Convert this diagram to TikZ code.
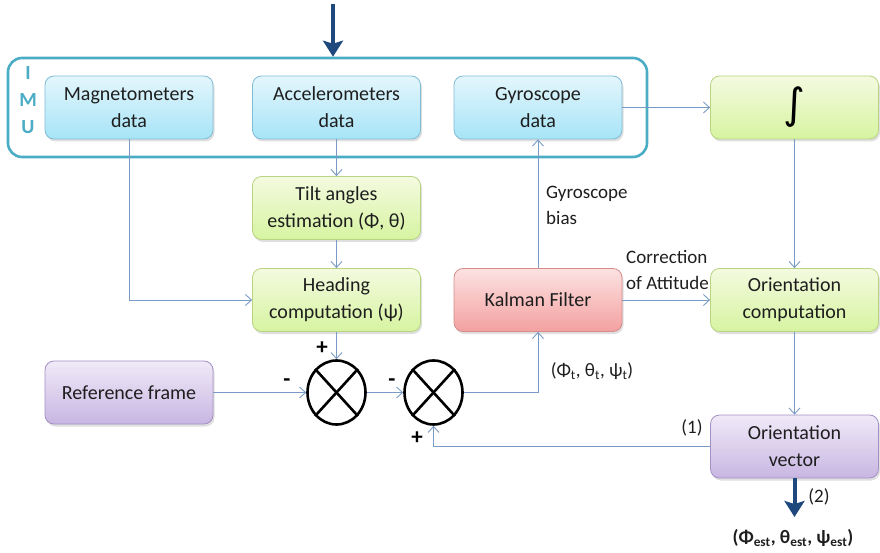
\documentclass[tikz,border=0pt]{standalone}
\usepackage{fontspec}
\setmainfont{Carlito}
\newfontfamily\intfont{DejaVu Sans}
\usetikzlibrary{shapes.geometric,arrows.meta,shadows}
\definecolor{conncol}{RGB}{122,155,198}
\definecolor{thickcol}{RGB}{31,73,125}
\definecolor{imucol}{RGB}{75,172,198}
\definecolor{txtcol}{RGB}{30,30,30}
\definecolor{bluetop}{RGB}{228,246,252}
\definecolor{bluebot}{RGB}{166,228,247}
\definecolor{blueedge}{RGB}{128,188,214}
\definecolor{greentop}{RGB}{244,250,224}
\definecolor{greenbot}{RGB}{214,244,160}
\definecolor{greenedge}{RGB}{184,212,130}
\definecolor{redtop}{RGB}{252,226,226}
\definecolor{redbot}{RGB}{244,160,160}
\definecolor{rededge}{RGB}{214,140,140}
\definecolor{purtop}{RGB}{240,234,248}
\definecolor{purbot}{RGB}{200,182,226}
\definecolor{puredge}{RGB}{164,144,196}
\tikzset{
  box/.style={draw, rounded corners=9pt, minimum width=168pt, minimum height=63pt,
    align=center, inner sep=2pt, text=txtcol, line width=0.8pt,
    font=\fontsize{20}{27}\selectfont,
    drop shadow={opacity=0.25, shadow xshift=1.5pt, shadow yshift=-2.5pt}},
  bluebox/.style={box, top color=bluetop, bottom color=bluebot, draw=blueedge},
  greenbox/.style={box, top color=greentop, bottom color=greenbot, draw=greenedge},
  redbox/.style={box, top color=redtop, bottom color=redbot, draw=rededge},
  purbox/.style={box, top color=purtop, bottom color=purbot, draw=puredge},
  mult/.style={draw=black, ellipse, line width=2.6pt, minimum width=58pt, minimum height=64pt, inner sep=0pt, fill=white},
  conn/.style={draw=conncol, line width=0.9pt, -{Straight Barb[length=6pt,width=11pt]}},
  thickarrow/.style={draw=thickcol, line width=4pt, -{Stealth[length=16pt,width=20pt,inset=3pt]}},
  lbl/.style={text=txtcol, font=\fontsize{19}{26}\selectfont, inner sep=0pt},
  sign/.style={text=black, font=\fontsize{23}{23}\selectfont\bfseries, inner sep=0pt},
  imul/.style={text=imucol, font=\fontsize{20}{20}\selectfont\bfseries, inner sep=0pt}
}
\begin{document}
\begin{tikzpicture}[x=1pt,y=-1pt]
\useasboundingbox (0,0) rectangle (880,553);
% IMU frame
\node[draw=imucol, line width=2.6pt, rounded corners=14pt, minimum width=639pt, minimum height=99pt, inner sep=0pt] (imu) at (327.5,107.5) {};
\node[imul] (li) at (28,73) {I};
\node[imul] (lm) at (28,100) {M};
\node[imul] (lu) at (28,127) {U};
% boxes
\node[bluebox] (mag) at (129,107.5) {Magnetometers\\data};
\node[bluebox] (acc) at (336.5,107.5) {Accelerometers\\data};
\node[bluebox] (gyro) at (538,107.5) {Gyroscope\\data};
\node[greenbox] (integ) at (794.5,107.5) {\intfont\fontsize{42}{42}\selectfont\textcolor{black}{∫}};
\node[greenbox] (tilt) at (336.5,208) {Tilt angles\\estimation (Φ, θ)};
\node[greenbox] (head) at (336.5,300) {Heading\\computation (ψ)};
\node[redbox] (kal) at (538,300) {Kalman Filter};
\node[greenbox] (ocomp) at (794.5,300) {Orientation\\computation};
\node[purbox] (ref) at (129,392.5) {Reference frame};
\node[purbox] (ovec) at (794.5,446.5) {Orientation\\vector};
% multipliers
\node[mult] (m1) at (336.5,392.5) {};
\draw[line width=2.6pt] (m1.north west) -- (m1.south east) (m1.north east) -- (m1.south west);
\node[mult] (m2) at (433.5,392.5) {};
\draw[line width=2.6pt] (m2.north west) -- (m2.south east) (m2.north east) -- (m2.south west);
% connectors
\draw[conn] (mag.south) |- (head.west);
\draw[conn] (acc) -- (tilt);
\draw[conn] (tilt) -- (head);
\draw[conn] (head) -- (m1);
\draw[conn] (ref) -- (m1);
\draw[conn] (m1) -- (m2);
\draw[conn] (m2.east) -| (kal.south);
\draw[conn] (kal) -- (gyro);
\draw[conn] (gyro) -- (integ);
\draw[conn] (integ) -- (ocomp);
\draw[conn] (kal) -- (ocomp);
\draw[conn] (ocomp) -- (ovec);
\draw[conn] (ovec.west) -| (m2.south);
% thick arrows
\coordinate (topin) at (333,4);
\draw[thickarrow] (topin) -- (topin |- imu.north);
\coordinate (botout) at (794.5,517);
\draw[thickarrow] (ovec.south) -- (botout);
% labels
\node[sign] (p1) at (322,348) {+};
\node[sign] (n1) at (287,383) {-};
\node[sign] (n2) at (392,383) {-};
\node[sign] (p2) at (417,438) {+};
\node[lbl] (lt) at (592,371) {(Φ\textsubscript{t}, θ\textsubscript{t}, ψ\textsubscript{t})};
\node[lbl, anchor=west, align=left] (lgb) at (546,205.5) {Gyroscope\\bias};
\node[lbl, anchor=west, align=left] (lca) at (626,270.5) {Correction\\of Attitude};
\node[lbl] (l1) at (692,428) {(1)};
\node[lbl] (l2) at (819,497) {(2)};
\node[lbl, font=\fontsize{19}{19}\selectfont\bfseries] (lest) at (793,538) {(Φ\textsubscript{est}, θ\textsubscript{est}, ψ\textsubscript{est})};
\end{tikzpicture}
\end{document}
